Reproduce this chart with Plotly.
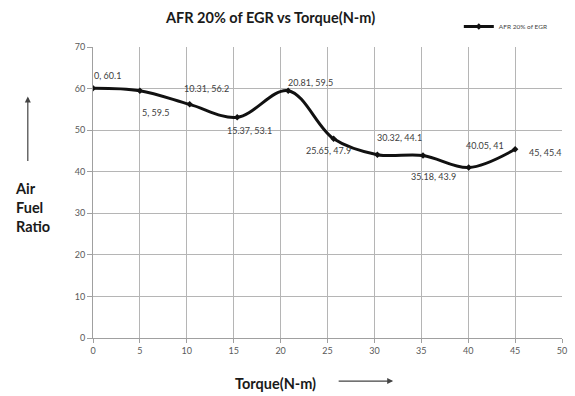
import plotly.graph_objects as go

torque = [0, 5, 10.31, 15.37, 20.81, 25.65, 30.32, 35.18, 40.05, 45]
afr = [60.1, 59.5, 56.2, 53.1, 59.5, 47.9, 44.1, 43.9, 41, 45.4]
series_name = "AFR 20% of EGR"
x_ticks = [0, 5, 10, 15, 20, 25, 30, 35, 40, 45, 50]
y_ticks = [0, 10, 20, 30, 40, 50, 60, 70]

# label offsets (pixels) relative to each point
label_shift = [(14, 13), (16, -22), (17, 16), (12, -13), (22, 8),
               (-5, -12), (22, 17), (11, -21), (16, 22), (30, -3)]

FONT = "Lato"

fig = go.Figure()
fig.add_trace(go.Scatter(
    x=torque, y=afr, mode="lines+markers", name=series_name,
    line=dict(color="#111111", width=3, shape="spline", smoothing=1.0),
    marker=dict(symbol="diamond", size=5, color="#111111"),
))

annotations = []
for (xv, yv), (dx, dy) in zip(zip(torque, afr), label_shift):
    annotations.append(dict(
        x=xv, y=yv, xref="x", yref="y", text=f"{xv:g}, {yv:g}",
        showarrow=False, xshift=dx, yshift=dy,
        xanchor="center", yanchor="middle",
        font=dict(family=FONT, size=9, color="#404040"),
    ))

# title
annotations.append(dict(
    x=0.378, y=1.10, xref="paper", yref="paper",
    text="<b>AFR 20% of EGR vs Torque(N-m)</b>", showarrow=False,
    xanchor="center", yanchor="middle",
    font=dict(family=FONT, size=14.5, color="#1a1a1a")))
# y label
annotations.append(dict(
    x=-0.171, y=0.448, xref="paper", yref="paper",
    text="<b>Air<br>Fuel<br>Ratio</b>", showarrow=False, align="left",
    xanchor="left", yanchor="middle",
    font=dict(family=FONT, size=14.5, color="#1a1a1a")))
# y arrow
annotations.append(dict(
    x=-0.139, y=0.83, xref="paper", yref="paper", text="",
    showarrow=True, arrowhead=2, arrowsize=1, arrowwidth=1.2,
    arrowcolor="#444444", ax=0, ay=66))
# x label
annotations.append(dict(
    x=0.39, y=-0.155, xref="paper", yref="paper",
    text="<b>Torque(N-m)</b>", showarrow=False,
    xanchor="center", yanchor="middle",
    font=dict(family=FONT, size=14.5, color="#1a1a1a")))
# x arrow
annotations.append(dict(
    x=0.64, y=-0.148, xref="paper", yref="paper", text="",
    showarrow=True, arrowhead=2, arrowsize=1, arrowwidth=1.2,
    arrowcolor="#444444", ax=-56, ay=0))

fig.update_layout(
    width=575, height=396,
    margin=dict(l=93, r=8, t=47, b=58),
    paper_bgcolor="white", plot_bgcolor="white",
    font=dict(family=FONT, size=9, color="#595959"),
    showlegend=True,
    legend=dict(x=0.78, y=1.12, xanchor="left", yanchor="top",
                font=dict(family=FONT, size=6.5, color="#444444"),
                bgcolor="rgba(0,0,0,0)", itemwidth=30),
    annotations=annotations,
    xaxis=dict(range=[0, 50], tickvals=x_ticks, showgrid=True,
               gridcolor="#b5b5b5", gridwidth=1, showline=True,
               linecolor="#a0a0a0", ticks="outside", ticklen=4,
               tickcolor="#a0a0a0", zeroline=False,
               tickfont=dict(size=9, color="#595959")),
    yaxis=dict(range=[0, 70], tickvals=y_ticks, showgrid=True,
               gridcolor="#b5b5b5", gridwidth=1, showline=True,
               linecolor="#a0a0a0", ticks="outside", ticklen=5,
               tickcolor="#a0a0a0", zeroline=False,
               tickfont=dict(size=9, color="#595959")),
)

fig.write_html("out.html")
